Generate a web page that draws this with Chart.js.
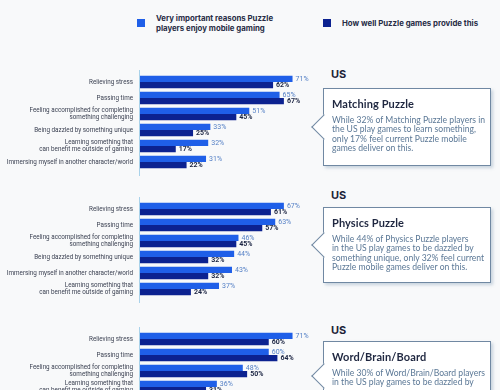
<!DOCTYPE html>
<html>
<head>
<meta charset="utf-8">
<script src="https://cdn.jsdelivr.net/npm/chart.js@4/dist/chart.umd.min.js"></script>
<style>
  html, body { margin: 0; padding: 0; }
  body {
    width: 500px; height: 390px; overflow: hidden; position: relative;
    background: #f8f9fa; font-family: Inter, "Noto Sans", sans-serif;
  }
  canvas { position: absolute; left: 0; }
  .leg { position: absolute; font-size: 7.8px; font-weight: 700; color: #272c45; line-height: 10px; }
  .sw { position: absolute; width: 8px; height: 8px; }
  .us { position: absolute; left: 331px; font-size: 11px; font-weight: 700; color: #1d2338; line-height: 12px; }
  .box {
    position: absolute; left: 323px; width: 168px; background: #fff;
    border: 1px solid #7088a2; box-shadow: 2px 2px 3px rgba(110,140,170,0.35);
    z-index: 2; box-sizing: border-box; padding-left: 8px;
    font-family: Lato, Inter, sans-serif;
  }
  .box::before {
    content: ""; position: absolute; left: -9px; top: 50%; width: 17px; height: 17px;
    margin-top: -9px; background: #fff; transform: rotate(45deg); z-index: -1;
    border-left: 1px solid #7088a2; border-bottom: 1px solid #7088a2;
  }
  .box h3 { margin: 8px 0 0 0; font-size: 11px; line-height: 14px; color: #1f2740; font-weight: 700; letter-spacing: 0.1px; }
  .box p { margin: 5px 0 0 0; font-size: 8.6px; line-height: 9.3px; color: #5b7896; white-space: nowrap; }
</style>
</head>
<body>
<div class="sw" style="left:137px;top:19px;background:#1f5fe8"></div>
<div class="leg" style="left:156px;top:13px">Very important reasons Puzzle<br>players enjoy mobile gaming</div>
<div class="sw" style="left:323px;top:19px;background:#0c2290"></div>
<div class="leg" style="left:342px;top:18px">How well Puzzle games provide this</div>

<canvas id="c1" width="312" height="106" style="top:70px"></canvas>
<canvas id="c2" width="312" height="106" style="top:197px"></canvas>
<canvas id="c3" width="312" height="74" style="top:327px"></canvas>

<div class="us" style="top:68px">US</div>
<div class="box" style="top:88px;height:78px">
  <h3>Matching Puzzle</h3>
  <p>While 32% of Matching Puzzle players in<br>the US play games to learn something,<br>only 17% feel current Puzzle mobile<br>games deliver on this.</p>
</div>
<div class="us" style="top:189px">US</div>
<div class="box" style="top:207px;height:76px">
  <h3>Physics Puzzle</h3>
  <p>While 44% of Physics Puzzle players<br>in the US play games to be dazzled by<br>something unique, only 32% feel current<br>Puzzle mobile games deliver on this.</p>
</div>
<div class="us" style="top:324px">US</div>
<div class="box" style="top:341px;height:70px">
  <h3>Word/Brain/Board</h3>
  <p>While 30% of Word/Brain/Board players<br>in the US play games to be dazzled by</p>
</div>

<script>
// Matching Puzzle
const cats1 = [
  'Relieving stress',
  'Passing time',
  ['Feeling accomplished for completing', 'something challenging'],
  'Being dazzled by something unique',
  ['Learning something that', 'can benefit me outside of gaming'],
  'Immersing myself in another character/world'
];
const important1 = [71, 65, 51, 33, 32, 31];
const provide1 = [62, 67, 45, 25, 17, 22];

// Physics Puzzle
const cats2 = [
  'Relieving stress',
  'Passing time',
  ['Feeling accomplished for completing', 'something challenging'],
  'Being dazzled by something unique',
  'Immersing myself in another character/world',
  ['Learning something that', 'can benefit me outside of gaming']
];
const important2 = [67, 63, 46, 44, 43, 37];
const provide2 = [61, 57, 45, 32, 32, 24];

// Word/Brain/Board (cut off at the bottom)
const cats3 = [
  'Relieving stress',
  'Passing time',
  ['Feeling accomplished for completing', 'something challenging'],
  ['Learning something that', 'can benefit me outside of gaming']
];
const important3 = [71, 60, 48, 36];
const provide3 = [60, 64, 50, 31];

const lightBlue = '#1f5fe8';
const darkBlue = '#0c2290';

// value labels + the light blue axis line
const valueLabels = {
  id: 'valueLabels',
  afterDatasetsDraw(chart) {
    const ctx = chart.ctx;
    const area = chart.chartArea;
    ctx.save();
    ctx.strokeStyle = '#a9d2ea';
    ctx.lineWidth = 1;
    ctx.beginPath();
    ctx.moveTo(area.left + 0.5, area.top - 4);
    ctx.lineTo(area.left + 0.5, area.bottom + 6);
    ctx.stroke();
    ctx.textBaseline = 'middle';
    ctx.textAlign = 'left';
    chart.data.datasets.forEach((ds, i) => {
      chart.getDatasetMeta(i).data.forEach((bar, j) => {
        ctx.font = (i === 0 ? '400 ' : '700 ') + '7px Roboto, sans-serif';
        ctx.fillStyle = i === 0 ? '#5580c6' : '#1b2442';
        ctx.fillText(ds.data[j] + '%', bar.x + 3, bar.y);
      });
    });
    ctx.restore();
  }
};

function makeChart(id, cats, important, provide) {
  new Chart(document.getElementById(id), {
    type: 'bar',
    data: {
      labels: cats,
      datasets: [
        { label: 'Very important reasons Puzzle players enjoy mobile gaming', data: important, backgroundColor: lightBlue },
        { label: 'How well Puzzle games provide this', data: provide, backgroundColor: darkBlue }
      ]
    },
    options: {
      indexAxis: 'y',
      responsive: false,
      animation: false,
      layout: { padding: { top: 4, bottom: 6, left: 0, right: 0 } },
      datasets: { bar: { categoryPercentage: 0.78, barPercentage: 1 } },
      plugins: { legend: { display: false }, tooltip: { enabled: false } },
      scales: {
        x: { display: false, min: 0, max: 80 },
        y: {
          afterFit(scale) {
            scale.width = 139;
            scale.paddingTop = 0;
            scale.paddingBottom = 0;
          },
          border: { display: false },
          grid: { display: false, drawTicks: false },
          ticks: {
            autoSkip: false,
            padding: 6,
            color: '#3b4152',
            font: { size: 6.3, family: 'Roboto, sans-serif', lineHeight: 1 }
          }
        }
      }
    },
    plugins: [valueLabels]
  });
}

makeChart('c1', cats1, important1, provide1);
makeChart('c2', cats2, important2, provide2);
makeChart('c3', cats3, important3, provide3);
</script>
</body>
</html>
